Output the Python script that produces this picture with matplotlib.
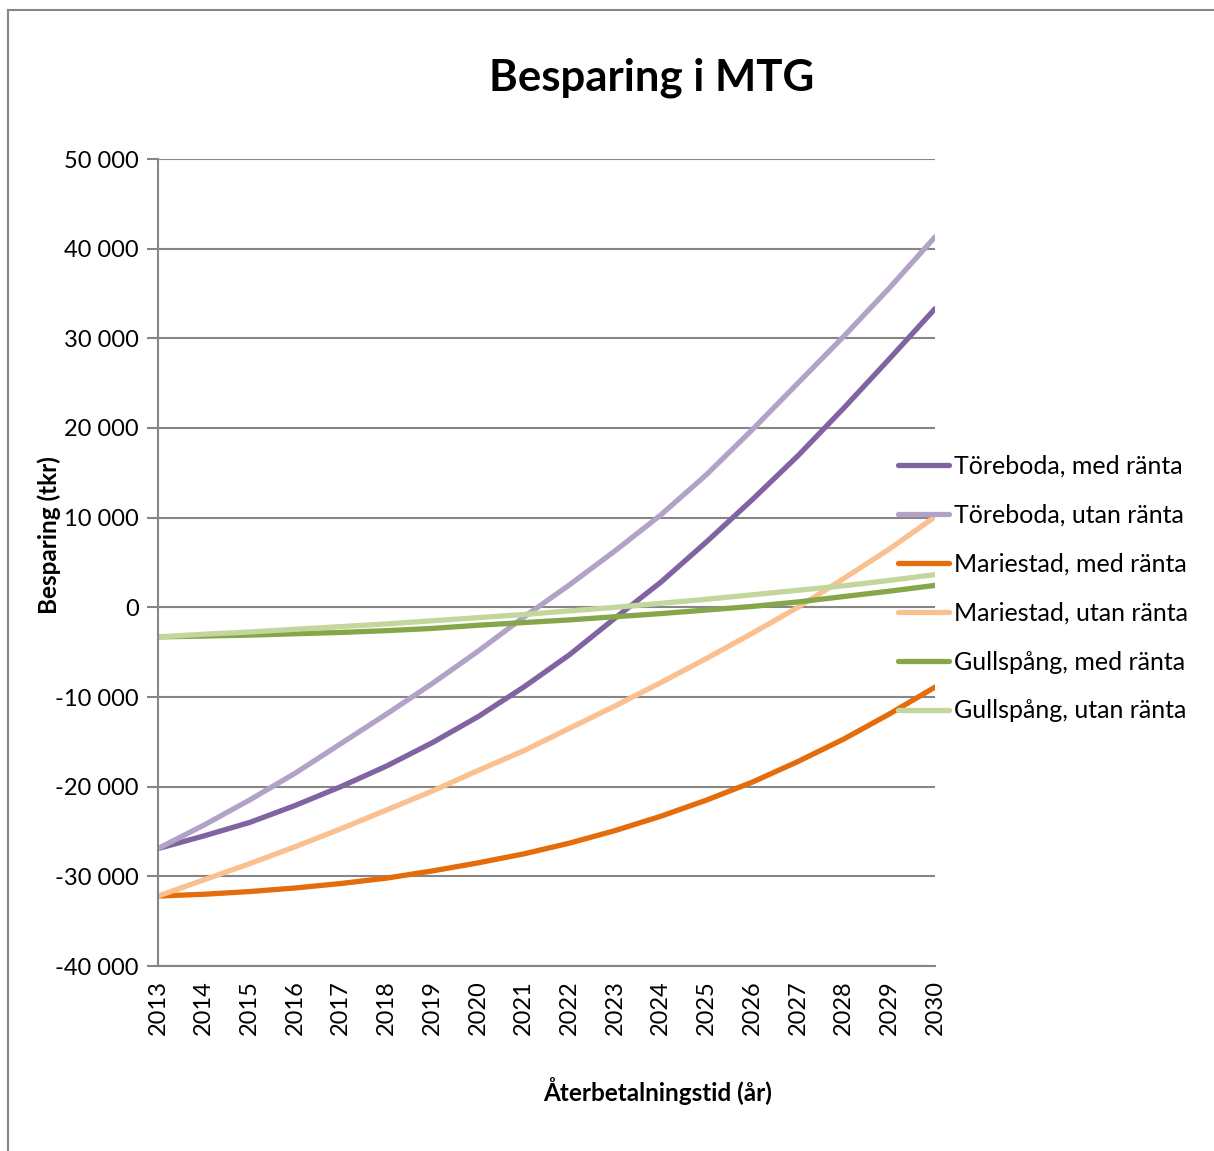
import matplotlib.pyplot as plt
from matplotlib.lines import Line2D
from matplotlib.ticker import FuncFormatter

years = list(range(2013, 2031))

toreboda_med = [-26900, -25500, -24000, -22100, -20000, -17700, -15100, -12200, -8900,
                -5300, -1200, 2800, 7300, 12000, 16900, 22200, 27700, 33300]
toreboda_utan = [-26900, -24300, -21500, -18500, -15200, -11900, -8500, -4900, -1100,
                 2500, 6300, 10300, 14800, 19800, 25000, 30200, 35600, 41300]
mariestad_med = [-32200, -32000, -31700, -31300, -30800, -30200, -29400, -28500, -27500,
                 -26300, -24900, -23300, -21500, -19500, -17200, -14700, -11900, -8900]
mariestad_utan = [-32200, -30400, -28600, -26700, -24700, -22600, -20500, -18200, -16000,
                  -13500, -11000, -8400, -5700, -2900, 0, 3200, 6500, 10100]
gullspang_med = [-3300, -3200, -3100, -2950, -2800, -2600, -2350, -2000, -1700,
                 -1400, -1050, -700, -300, 100, 600, 1200, 1800, 2450]
gullspang_utan = [-3300, -3000, -2750, -2450, -2150, -1850, -1500, -1150, -800,
                  -400, 0, 450, 900, 1400, 1900, 2400, 3000, 3650]

series = [
    ("Töreboda, med ränta", toreboda_med, "#8064A2"),
    ("Töreboda, utan ränta", toreboda_utan, "#B3A2C7"),
    ("Mariestad, med ränta", mariestad_med, "#E46C0A"),
    ("Mariestad, utan ränta", mariestad_utan, "#FAC090"),
    ("Gullspång, med ränta", gullspang_med, "#86A64A"),
    ("Gullspång, utan ränta", gullspang_utan, "#C3D69B"),
]

plt.rcParams['font.family'] = ['Lato', 'DejaVu Sans']

fig = plt.figure(figsize=(12.14, 11.51), dpi=100)
ax = fig.add_axes([158 / 1214, 1 - 966 / 1151, (935 - 158) / 1214, (966 - 159) / 1151])

for label, vals, color in series:
    ax.plot(years, vals, color=color, lw=3.8, label=label, solid_capstyle="round")

ax.set_xlim(2013, 2030)
ax.set_ylim(-40000, 50000)
ax.set_yticks(range(-40000, 50001, 10000))
ax.yaxis.set_major_formatter(FuncFormatter(lambda v, p: f"{int(v):,}".replace(",", " ")))
ax.set_xticks(years)
ax.set_xticklabels([str(y) for y in years], rotation=90)

ax.grid(axis="y", color="#868686", lw=1.5)
ax.set_axisbelow(True)
for side in ["top", "right"]:
    ax.spines[side].set_visible(False)
for side in ["left", "bottom"]:
    ax.spines[side].set_color("#868686")
    ax.spines[side].set_linewidth(1.5)
ax.tick_params(axis="y", length=8, width=1.5, color="#868686", labelsize=17, pad=6)
ax.tick_params(axis="x", length=0, labelsize=17, pad=10)

fig.text(652 / 1214, 1 - 78 / 1151, "Besparing i MTG", ha="center", va="center",
         fontsize=31.5, fontweight="bold")
fig.text(49 / 1214, 1 - 535 / 1151, "Besparing (tkr)", ha="center", va="center",
         rotation=90, fontsize=17.5, fontweight="bold")
fig.text(658 / 1214, 1 - 1091 / 1151, "Återbetalningstid (år)", ha="center", va="center",
         fontsize=17.5, fontweight="bold")

ax.legend(loc="upper left", bbox_to_anchor=(885 / 1214, 1 - 442 / 1151),
          bbox_transform=fig.transFigure, frameon=False, fontsize=18,
          handlelength=2.05, handletextpad=0.2, labelspacing=1.04, borderpad=0)

# outer chart border (left and top only visible)
fig.add_artist(Line2D([8 / 1214, 8 / 1214], [0, 1 - 10 / 1151], color="#868686", lw=1.5))
fig.add_artist(Line2D([8 / 1214, 1], [1 - 10 / 1151, 1 - 10 / 1151], color="#868686", lw=1.5))

fig.savefig("out.png", dpi=100)
